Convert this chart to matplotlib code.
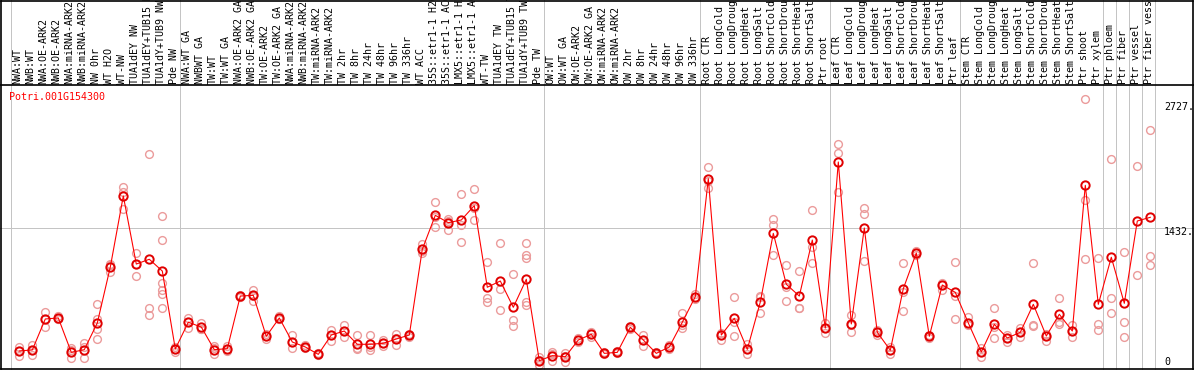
import matplotlib
matplotlib.use("Agg")
import matplotlib.pyplot as plt
from matplotlib.lines import Line2D
import matplotlib.transforms as mtransforms

# ---------------- data ----------------
title = "Potri.001G154300"

categories = [
    "NWA:WT", "NWB:WT", "NWA:OE-ARK2", "NWB:OE-ARK2", "NWA:miRNA-ARK2", "NWB:miRNA-ARK2",
    "NW 0hr", "WT H2O", "WT-NW", "TUA1dEY NW", "TUA1dEY+TUB15 NW", "TUA1dY+TUB9 NW", "Pde NW",
    "NWA:WT GA", "NWBWT GA", "TW:WT", "TW:WT GA", "NWA:OE-ARK2 GA", "NWB:OE-ARK2 GA",
    "TW:OE-ARK2", "TW:OE-ARK2 GA", "NWA:miRNA-ARK2", "NWB:miRNA-ARK2", "TW:miRNA-ARK2",
    "TW:miRNA-ARK2", "TW 2hr", "TW 8hr", "TW 24hr", "TW 48hr", "TW 96hr", "TW 336hr",
    "WT ACC", "35S::etr1-1 H2O", "35S::etr1-1 ACC", "LMX5::etr1-1 H2O", "LMX5::etr1-1 ACC",
    "WT-TW", "TUA1dEY TW", "TUA1dEY+TUB15 TW", "TUA1dY+TUB9 TW", "Pde TW",
    "OW:WT", "OW:WT GA", "OW:OE-ARK2", "OW:OE-ARK2 GA", "OW:miRNA-ARK2", "OW:miRNA-ARK2",
    "OW 2hr", "OW 8hr", "OW 24hr", "OW 48hr", "OW 96hr", "OW 336hr",
    "Root CTR", "Root LongCold", "Root LongDrought", "Root LongHeat", "Root LongSalt",
    "Root ShortCold", "Root ShortDrought", "Root ShortHeat", "Root ShortSalt", "Ptr root",
    "Leaf CTR", "Leaf LongCold", "Leaf LongDrought", "Leaf LongHeat", "Leaf LongSalt",
    "Leaf ShortCold", "Leaf ShortDrought", "Leaf ShortHeat", "Leaf ShortSalt", "Ptr leaf",
    "Stem CTR", "Stem LongCold", "Stem LongDrought", "Stem LongHeat", "Stem LongSalt",
    "Stem ShortCold", "Stem ShortDrought", "Stem ShortHeat", "Stem ShortSalt",
    "Ptr shoot", "Ptr xylem", "Ptr phloem", "Ptr fiber", "Ptr vessel", "Ptr fiber vessel",
]

means = [
    195, 205, 516, 526, 181, 208, 476, 1037, 1750, 1067, 1115, 997, 215,
    483, 435, 208, 218, 746, 753, 342, 526, 285, 235, 161, 355, 395, 262, 262, 272, 315,
    355, 1215, 1556, 1482, 1509, 1653, 834, 897, 633, 914, 97,
    148, 137, 305, 362, 171, 181, 432, 305, 171, 235, 483, 740,
    1924, 355, 522, 211, 686, 1375, 864, 746, 1308, 425,
    2091, 466, 1429, 382, 202, 820, 1178, 342, 857, 783,
    476, 185, 462, 325, 382, 663, 345, 563, 395, 1857, 663,
    1135, 673, 1499, 1536,
]

replicates = [
    [238, 195, 148], [252, 205, 155], [586, 520, 439], [546, 520, 512],
    [222, 200, 121], [272, 230, 121], [663, 516, 412, 312], [1057, 1065, 990],
    [1837, 1793, 1616], [1181, 1070, 947], [2171, 623, 553],
    [1549, 1308, 880, 807, 767, 623], [238, 215, 188],
    [529, 490, 428], [472, 420, 412], [221, 240, 165], [240, 218, 195],
    [760, 740, 738], [807, 750, 700], [370, 342, 315], [546, 520, 512],
    [355, 280, 222], [250, 235, 220], [175, 161, 150], [405, 360, 298],
    [455, 392, 338], [355, 220, 212], [352, 230, 205], [305, 272, 240],
    [365, 325, 255], [370, 355, 340], [1268, 1200, 1175], [1687, 1540, 1442],
    [1519, 1500, 1409], [1767, 1459, 1291], [1817, 1630, 1509], [1085, 723, 683],
    [1275, 814, 606], [967, 506, 445], [1275, 1158, 1125, 689, 656], [137, 100, 54],
    [182, 160, 97], [178, 145, 87], [330, 305, 280], [385, 362, 340],
    [185, 171, 160], [195, 181, 170], [445, 432, 420], [355, 305, 245],
    [180, 171, 160], [255, 235, 215], [573, 455, 422], [765, 740, 715],
    [2044, 1900, 1827], [378, 355, 305], [733, 485, 348], [262, 211, 161],
    [746, 733, 579], [1519, 1459, 1158], [1057, 840, 696], [997, 623, 630],
    [1609, 1241, 1075], [472, 430, 372],
    [2271, 2178, 1793], [556, 460, 382], [1626, 1566, 1095], [405, 382, 355],
    [235, 202, 165], [1075, 790, 596], [1200, 1178, 1160], [355, 342, 325],
    [880, 857, 807], [1085, 750, 513],
    [540, 476, 460], [220, 185, 135], [623, 440, 322], [355, 325, 280],
    [430, 382, 340], [1075, 452, 442], [370, 345, 290], [723, 489, 466],
    [455, 395, 340], [2727, 1710, 1115], [1125, 466, 405],
    [2118, 723, 573], [1185, 483, 338], [2048, 954], [2409, 1148, 1054],
]

# index of the last category of each group (vertical separators)
group_ends = [-1, 12, 40, 52, 62, 72, 83, 84, 85, 86, 87]

# ---------------- layout ----------------
W, H = 1194, 370
fig = plt.figure(figsize=(W / 100, H / 100), dpi=100)
fig.patch.set_facecolor("white")

def fx(px):
    return px / W

def fy(py):
    return 1 - py / H

TOP_PX, BOT_PX = 85.0, 370.4
ax = fig.add_axes([0, fy(BOT_PX), 1, (BOT_PX - TOP_PX) / H])
ax.set_axis_off()

x0_px, step_px = 19.3, 13.0
ax.set_xlim((0 - x0_px) / step_px, (W - x0_px) / step_px)
ymax_data = max(max(r) for r in replicates)
ax.set_ylim(0, ymax_data * 1.05)

FONT = "DejaVu Sans Mono"
FS = 7.2
GRID = "#c4c4c4"
px = 0.72  # one pixel in points

# vertical separators spanning whole figure height
ymax_frac = BOT_PX / (BOT_PX - TOP_PX)
for g in group_ends:
    ax.axvline(g + 0.385, ymin=0, ymax=ymax_frac, color=GRID, lw=1.0 * px,
               clip_on=False, zorder=1)

# horizontal gridline at half of axis range
half = ymax_data * 1.05 / 2
ax.axhline(half, color=GRID, lw=1.0 * px, zorder=1)

# replicate points
xs = list(range(len(categories)))
for i, reps in enumerate(replicates):
    ax.plot([i] * len(reps), reps, linestyle="none", marker="o", markersize=5.6,
            markerfacecolor="none", markeredgecolor="#eb9b9b", markeredgewidth=1.0,
            zorder=2)

# mean line
ax.plot(xs, means, color="#ff0000", lw=1.1 * px, zorder=3)
ax.plot(xs, means, linestyle="none", marker="o", markersize=6.0,
        markerfacecolor="none", markeredgecolor="#e00000", markeredgewidth=1.4,
        zorder=4)

# category labels (rotated, in top band)
trans = mtransforms.blended_transform_factory(ax.transData, fig.transFigure)
for i, lab in enumerate(categories):
    ax.text(i - 0.12, fy(83.5), lab, rotation=90, ha="center", va="bottom",
            fontsize=FS, family=FONT, color="black", transform=trans, clip_on=False)

# title
fig.text(fx(9.5), fy(96.7), title, color="#ff0000", fontsize=FS, family=FONT,
         ha="left", va="center")

# right-hand value labels
ticks = [ymax_data, half, 0]
tick_texts = ["%d." % round(ymax_data), "%d." % round(half), "0"]
offsets = [-8.1, -4.6, 8.4]
for v, t, off in zip(ticks, tick_texts, offsets):
    ax.annotate(t, xy=(fx(1164), v), xycoords=("figure fraction", "data"),
                xytext=(0, off), textcoords="offset pixels", ha="left", va="center",
                fontsize=FS, family=FONT, color="black", annotation_clip=False)

# frame and divider
lw_frame = 1.2
for (xa, ya, xb, yb) in [(0.6, 0.5, 1193, 0.5), (0.6, 0.5, 0.6, 369.3),
                         (1192.6, 0.5, 1192.6, 369.3), (0.6, 369.0, 1193, 369.0),
                         (0, 85.0, W, 85.0)]:
    fig.add_artist(Line2D([fx(xa), fx(xb)], [fy(ya), fy(yb)], color="black",
                          lw=lw_frame, transform=fig.transFigure))

fig.savefig("out.png", dpi=100, facecolor="white")
